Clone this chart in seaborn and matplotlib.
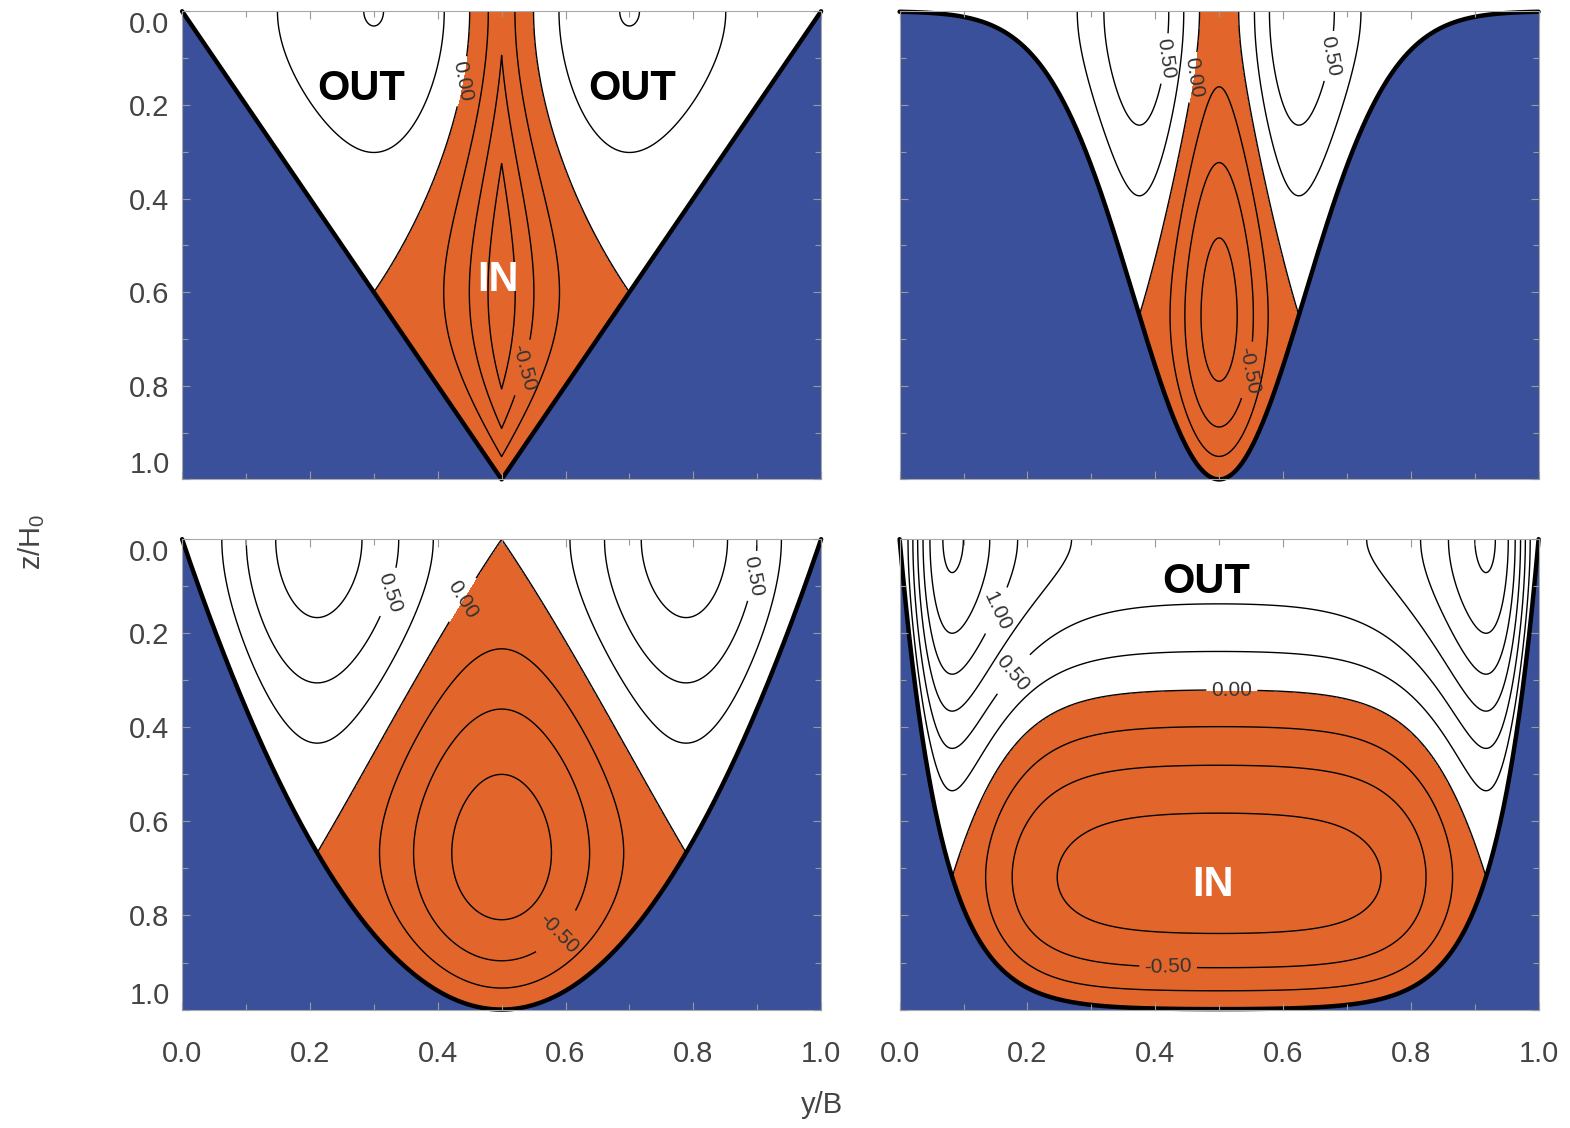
import numpy as np
import matplotlib
matplotlib.use('Agg')
import matplotlib.pyplot as plt
from matplotlib.ticker import MultipleLocator
import seaborn as sns

####### chart values #######

# four channel cross sections, depth z/H0 against width y/B
panel_names = ['triangular', 'gaussian', 'parabolic', 'flat']
gauss_width = 0.19      # e-folding half width of the gaussian channel
wall_scale = 0.065      # decay scale of the steep walls of the flat channel
flow_scale = [28, 32, 36, 50]   # velocity unit of each panel

contour_levels = [-1.5, -1.25, -1.0, -0.75, -0.5, -0.25, 0.0,
                  0.25, 0.5, 0.75, 1.0, 1.25, 1.5, 1.75]
tick_values = [0.0, 0.2, 0.4, 0.6, 0.8, 1.0]
tick_labels = ['0.0', '0.2', '0.4', '0.6', '0.8', '1.0']

# where the contour labels sit (y/B, z/H0), by level
label_spots = [
    {0.0: [(0.44, 0.15)], -0.5: [(0.53, 0.76)]},
    {0.5: [(0.41, 0.10), (0.69, 0.10)], 0.0: [(0.455, 0.14)], -0.5: [(0.56, 0.77)]},
    {0.5: [(0.34, 0.12), (0.90, 0.08)], 0.0: [(0.44, 0.13)], -0.5: [(0.59, 0.84)]},
    {1.0: [(0.18, 0.17)], 0.5: [(0.19, 0.30)], 0.0: [(0.52, 0.32)], -0.5: [(0.42, 0.92)]},
]

# OUT / IN words in the panels
panel_words = [
    [('OUT', 0.28, 0.165, 'black'), ('OUT', 0.705, 0.165, 'black'), ('IN', 0.494, 0.575, 'white')],
    [],
    [],
    [('OUT', 0.48, 0.09, 'black'), ('IN', 0.49, 0.735, 'white')],
]

blue = '#3b509a'
orange = '#e2662b'

####### fields #######

yb = np.linspace(0, 1, 801)
zh = np.linspace(0, 1, 601)

depths = [
    1 - np.abs(2 * yb - 1),
    np.exp(-((yb - 0.5) / gauss_width) ** 2),
    1 - (2 * yb - 1) ** 2,
    (1 - np.exp(-yb / wall_scale)) * (1 - np.exp(-(1 - yb) / wall_scale)),
]


def exchange_flow(h, b):
    # density driven flow, free surface slope set so net transport is zero
    r = np.trapezoid(h ** 4, yb) / np.trapezoid(h ** 3, yb)
    a = -3 * b * r / 8
    H, Z = np.meshgrid(h, zh)
    return a / 2 * (Z ** 2 - H ** 2) + b / 6 * (Z ** 3 - H ** 3)


####### plot #######

sns.set_style('ticks')
plt.rcParams['font.family'] = ['Liberation Sans', 'DejaVu Sans']

fig = plt.figure(figsize=(15.7, 11.28), dpi=100)
rects = [[0.116, 0.575, 0.407, 0.415], [0.573, 0.575, 0.407, 0.415],
         [0.116, 0.105, 0.407, 0.417], [0.573, 0.105, 0.407, 0.417]]
axes = [fig.add_axes(r) for r in rects]

for i, ax in enumerate(axes):
    h = depths[i]
    u = exchange_flow(h, flow_scale[i])

    ax.contourf(yb, zh, u, levels=[-100, 0, 100], colors=[orange, 'white'], zorder=1)
    # one contour set per level, so labels can be put on single levels
    for lev in contour_levels:
        cs = ax.contour(yb, zh, u, levels=[lev], colors='black',
                        linewidths=1.0, linestyles='solid', zorder=2)
        if lev in label_spots[i]:
            ax.clabel(cs, manual=label_spots[i][lev], inline=True, fmt='%.2f',
                      fontsize=15, colors='#333333')

    ax.fill_between(yb, h, 1, color=blue, lw=0, zorder=3)
    sns.lineplot(x=yb, y=h, color='black', lw=3.2, ax=ax, zorder=4,
                 clip_on=False, estimator=None)

    for word, wx, wz, col in panel_words[i]:
        ax.text(wx, wz, word, fontsize=30, fontweight='bold', color=col,
                ha='center', va='center', zorder=6)

    ax.set_xlim(0, 1)
    ax.set_ylim(1, 0)
    ax.set_xlabel('')
    ax.set_ylabel('')
    ax.set_xticks(tick_values)
    ax.set_yticks(tick_values)
    ax.xaxis.set_minor_locator(MultipleLocator(0.1))
    ax.yaxis.set_minor_locator(MultipleLocator(0.1))
    ax.tick_params(which='both', direction='in', top=True, right=True,
                   color='#999999', width=0.8, labelsize=21, labelcolor='#444444')
    ax.tick_params(which='major', length=6)
    ax.tick_params(which='minor', length=4)
    ax.tick_params(axis='x', pad=22)
    ax.tick_params(axis='y', pad=9)

    if i < 2:
        ax.set_xticklabels([])
    else:
        ax.set_xticklabels(tick_labels)
    if i % 2 == 1:
        ax.set_yticklabels([])
    else:
        ax.set_yticklabels(tick_labels)
        labs = ax.get_yticklabels()
        labs[0].set_va('top')
        labs[-1].set_va('bottom')

    for s in ax.spines.values():
        s.set_color('#aaaaaa')
        s.set_linewidth(0.8)
        s.set_zorder(5)
    ax.xaxis.set_zorder(5)
    ax.yaxis.set_zorder(5)

fig.text(0.02, 0.52, r'z/H$_\mathregular{0}$', rotation=90, fontsize=21,
         color='#444444', ha='center', va='center')
fig.text(0.5236, 0.02, 'y/B', fontsize=21, color='#444444', ha='center', va='center')

fig.savefig('out.png', dpi=100)
